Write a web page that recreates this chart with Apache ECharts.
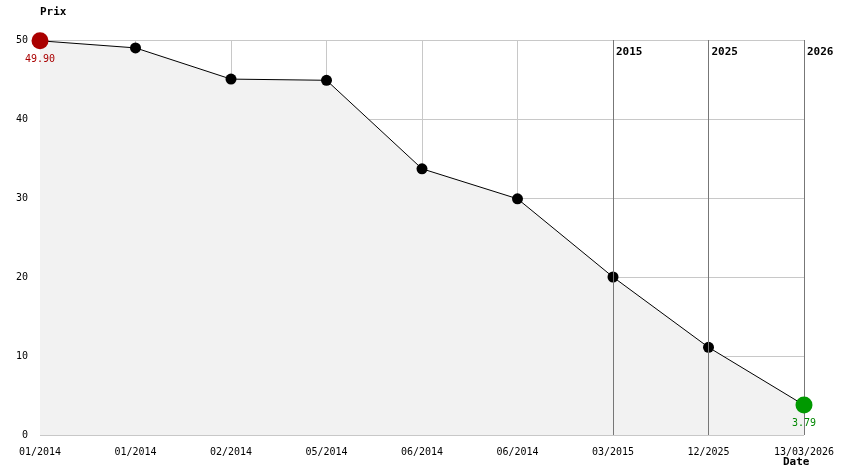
<!DOCTYPE html>
<html><head><meta charset="utf-8">
<script src="https://cdn.jsdelivr.net/npm/echarts@6/dist/echarts.min.js"></script>
<style>body{margin:0;background:#fff}#main{width:844px;height:474px}</style>
</head><body><div id="main"></div>
<script>
// donnees
var dates = ['01/2014','01/2014','02/2014','05/2014','06/2014','06/2014','03/2015','12/2025','13/03/2026'];
var prix = [49.90, 49.0, 45.05, 44.9, 33.7, 29.9, 20.0, 11.1, 3.79];
var annees = [[6,'2015'],[7,'2025'],[8,'2026']];
var resume = ['Initial : 49.90','Mini : 3.79','Max : 49.90','Actuel : 3.79'];
var resumeCouleurs = ['#000','#008800','#cc0000','#000'];

var mono = 'DejaVu Sans Mono';
var chart = echarts.init(document.getElementById('main'));
var iMax = prix.indexOf(Math.max.apply(null, prix));
var iMin = prix.indexOf(Math.min.apply(null, prix));

var textes = resume.map(function (t, i) {
    return {type: 'text', left: 50, top: 380 + i * 14,
        style: {text: t, fill: resumeCouleurs[i], font: '10px "' + mono + '"'}};
});
textes.push({type: 'text', left: 783, top: 457,
    style: {text: 'Date', fill: '#000', font: 'bold 11px "' + mono + '"'}});

chart.setOption({
    animation: false,
    grid: {left: 40, right: 40, top: 40, bottom: 39, outerBoundsMode: 'none', containLabel: false},
    textStyle: {fontFamily: mono},
    xAxis: {
        type: 'category', data: dates, boundaryGap: false,
        axisLine: {show: false}, axisTick: {show: false},
        axisLabel: {color: '#000', fontSize: 10, fontFamily: mono, margin: 12},
        splitLine: {show: true, lineStyle: {color: '#c8c8c8'}}
    },
    yAxis: {
        type: 'value', min: 0, max: 50, interval: 10,
        name: 'Prix', nameGap: 22,
        nameTextStyle: {fontWeight: 'bold', fontSize: 11, color: '#000', align: 'left'},
        axisLine: {show: false}, axisTick: {show: false},
        axisLabel: {color: '#000', fontSize: 10, fontFamily: mono, margin: 12},
        splitLine: {lineStyle: {color: '#c8c8c8'}}
    },
    series: [{
        type: 'line', data: prix,
        symbol: 'circle', symbolSize: 11,
        itemStyle: {color: '#000'},
        lineStyle: {color: '#000', width: 1},
        areaStyle: {color: '#f2f2f2', opacity: 1},
        markLine: {
            silent: true, symbol: 'none', label: {show: false},
            lineStyle: {color: '#777', type: 'solid', width: 1},
            data: annees.map(function (a) { return {xAxis: a[0]}; })
        },
        markPoint: {
            symbol: 'circle', symbolSize: 0,
            label: {position: 'right', distance: 3, color: '#000', fontWeight: 'bold', fontSize: 11, fontFamily: mono},
            data: annees.map(function (a) { return {coord: [a[0], 48.5], value: a[1], label: {formatter: a[1]}}; })
        },
        z: 2
    }, {
        type: 'scatter', symbolSize: 17, z: 5,
        data: [
            {value: [iMax, prix[iMax]], itemStyle: {color: '#aa0000', opacity: 1}, label: {color: '#aa0000'}},
            {value: [iMin, prix[iMin]], itemStyle: {color: '#009900', opacity: 1}, label: {color: '#008800'}}
        ],
        label: {show: true, position: 'bottom', distance: 5, fontSize: 10, fontFamily: mono,
            formatter: function (p) { return p.value[1].toFixed(2); }}
    }],
    graphic: textes
});
</script></body></html>
